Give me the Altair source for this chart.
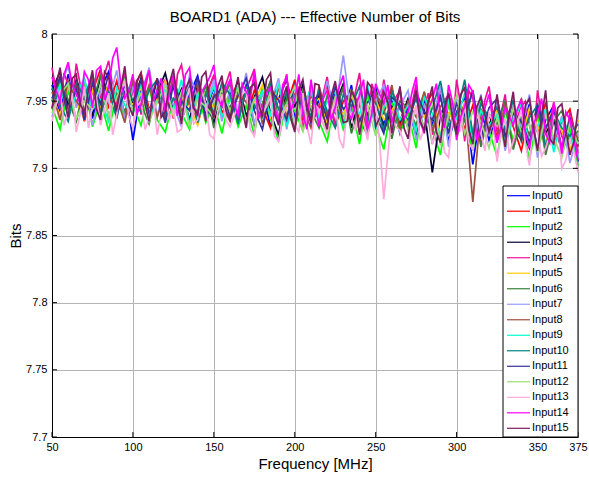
import altair as alt
import pandas as pd

# ---------------- data ----------------
freq = list(range(50, 376, 5))                 # MHz, main sweep
freq_mid = [f + 2.5 for f in freq[:-1]]        # MHz, extra readings between sweep points
names = [f"Input{i}" for i in range(16)]
colors = ["#0000ff", "#ff0000", "#00ff00", "#000033", "#ee1199", "#ffcc00",
          "#3a7f3a", "#9999ff", "#a05040", "#00ffcc", "#008080", "#333399",
          "#99dd77", "#ffaadd", "#ff00ff", "#7a1e5e"]
x_ticks = [50, 100, 150, 200, 250, 300, 350, 375]
y_ticks = [7.7, 7.75, 7.8, 7.85, 7.9, 7.95, 8.0]

input0 = [7.962, 7.941, 7.970, 7.948, 7.966, 7.937, 7.959, 7.972, 7.944, 7.963, 7.921,
          7.958, 7.940, 7.967, 7.946, 7.961, 7.935, 7.955, 7.969, 7.942, 7.960, 7.938,
          7.957, 7.936, 7.962, 7.944, 7.958, 7.931, 7.952, 7.966, 7.939, 7.955, 7.934,
          7.951, 7.930, 7.957, 7.938, 7.962, 7.927, 7.949, 7.960, 7.933, 7.950, 7.926,
          7.946, 7.924, 7.951, 7.933, 7.955, 7.920, 7.942, 7.953, 7.903, 7.944, 7.921,
          7.939, 7.918, 7.945, 7.926, 7.948, 7.914, 7.936, 7.947, 7.912, 7.938, 7.905]
input1 = [7.950, 7.968, 7.943, 7.961, 7.935, 7.957, 7.974, 7.946, 7.965, 7.940, 7.958,
          7.971, 7.944, 7.953, 7.937, 7.966, 7.949, 7.960, 7.933, 7.955, 7.969, 7.941,
          7.952, 7.964, 7.938, 7.958, 7.945, 7.930, 7.961, 7.947, 7.966, 7.936, 7.954,
          7.944, 7.962, 7.931, 7.950, 7.957, 7.936, 7.925, 7.953, 7.941, 7.960, 7.932,
          7.949, 7.927, 7.945, 7.956, 7.922, 7.938, 7.951, 7.929, 7.947, 7.918, 7.940,
          7.924, 7.946, 7.931, 7.913, 7.942, 7.927, 7.949, 7.919, 7.935, 7.944, 7.916]
input2 = [7.946, 7.929, 7.958, 7.935, 7.963, 7.931, 7.950, 7.928, 7.955, 7.938, 7.947,
          7.932, 7.960, 7.936, 7.927, 7.952, 7.941, 7.929, 7.957, 7.934, 7.948, 7.926,
          7.954, 7.931, 7.947, 7.925, 7.962, 7.937, 7.921, 7.950, 7.943, 7.928, 7.958,
          7.935, 7.920, 7.951, 7.929, 7.946, 7.918, 7.955, 7.932, 7.914, 7.949, 7.927,
          7.941, 7.915, 7.957, 7.930, 7.910, 7.948, 7.924, 7.937, 7.913, 7.952, 7.928,
          7.909, 7.943, 7.921, 7.936, 7.906, 7.939, 7.917, 7.947, 7.911, 7.929, 7.902]
input3 = [7.958, 7.972, 7.947, 7.966, 7.951, 7.940, 7.969, 7.955, 7.943, 7.964, 7.949,
          7.967, 7.938, 7.956, 7.971, 7.945, 7.959, 7.936, 7.962, 7.950, 7.934, 7.958,
          7.944, 7.964, 7.939, 7.953, 7.968, 7.941, 7.925, 7.957, 7.946, 7.962, 7.936,
          7.955, 7.933, 7.948, 7.963, 7.930, 7.951, 7.940, 7.958, 7.927, 7.946, 7.935,
          7.952, 7.926, 7.944, 7.897, 7.939, 7.955, 7.929, 7.947, 7.921, 7.943, 7.932,
          7.948, 7.923, 7.940, 7.929, 7.915, 7.944, 7.926, 7.937, 7.912, 7.934, 7.920]
input4 = [7.975, 7.944, 7.962, 7.978, 7.939, 7.968, 7.952, 7.980, 7.946, 7.971, 7.957,
          7.940, 7.973, 7.951, 7.966, 7.937, 7.977, 7.948, 7.960, 7.935, 7.969, 7.954,
          7.972, 7.938, 7.959, 7.974, 7.943, 7.965, 7.934, 7.970, 7.951, 7.928, 7.963,
          7.947, 7.968, 7.931, 7.960, 7.944, 7.971, 7.929, 7.955, 7.966, 7.937, 7.958,
          7.930, 7.963, 7.945, 7.925, 7.959, 7.938, 7.966, 7.920, 7.952, 7.934, 7.961,
          7.927, 7.955, 7.917, 7.946, 7.932, 7.958, 7.914, 7.949, 7.924, 7.942, 7.911]
input5 = [7.953, 7.940, 7.961, 7.949, 7.937, 7.958, 7.945, 7.963, 7.942, 7.955, 7.947,
          7.960, 7.943, 7.951, 7.965, 7.939, 7.954, 7.946, 7.932, 7.957, 7.944, 7.962,
          7.941, 7.955, 7.936, 7.950, 7.962, 7.938, 7.952, 7.944, 7.930, 7.957, 7.946,
          7.952, 7.934, 7.947, 7.940, 7.956, 7.928, 7.945, 7.951, 7.936, 7.943, 7.955,
          7.931, 7.946, 7.938, 7.952, 7.925, 7.941, 7.933, 7.949, 7.927, 7.944, 7.930,
          7.943, 7.926, 7.939, 7.921, 7.945, 7.932, 7.918, 7.940, 7.928, 7.913, 7.936]
input6 = [7.944, 7.966, 7.951, 7.935, 7.960, 7.947, 7.970, 7.938, 7.956, 7.942, 7.964,
          7.948, 7.933, 7.959, 7.945, 7.968, 7.936, 7.953, 7.941, 7.962, 7.930, 7.950,
          7.963, 7.940, 7.956, 7.932, 7.948, 7.965, 7.937, 7.952, 7.929, 7.958, 7.943,
          7.930, 7.954, 7.941, 7.961, 7.926, 7.948, 7.937, 7.957, 7.944, 7.922, 7.950,
          7.945, 7.932, 7.956, 7.918, 7.943, 7.927, 7.951, 7.935, 7.958, 7.916, 7.940,
          7.933, 7.950, 7.914, 7.938, 7.925, 7.947, 7.910, 7.935, 7.943, 7.919, 7.928]
input7 = [7.938, 7.961, 7.976, 7.945, 7.967, 7.932, 7.958, 7.949, 7.973, 7.936, 7.960,
          7.954, 7.975, 7.939, 7.963, 7.947, 7.931, 7.970, 7.952, 7.943, 7.966, 7.935,
          7.959, 7.944, 7.971, 7.933, 7.955, 7.948, 7.967, 7.929, 7.961, 7.940, 7.957,
          7.936, 7.965, 7.942, 7.984, 7.938, 7.956, 7.925, 7.950, 7.962, 7.931, 7.946,
          7.958, 7.921, 7.947, 7.936, 7.961, 7.916, 7.953, 7.940, 7.928, 7.955, 7.924,
          7.950, 7.913, 7.942, 7.931, 7.955, 7.908, 7.944, 7.920, 7.939, 7.904, 7.926]
input8 = [7.957, 7.936, 7.965, 7.950, 7.942, 7.969, 7.940, 7.961, 7.953, 7.934, 7.967,
          7.945, 7.962, 7.938, 7.957, 7.969, 7.943, 7.949, 7.964, 7.937, 7.955, 7.947,
          7.935, 7.958, 7.949, 7.966, 7.933, 7.952, 7.960, 7.939, 7.955, 7.945, 7.930,
          7.961, 7.940, 7.953, 7.934, 7.958, 7.947, 7.929, 7.955, 7.943, 7.962, 7.928,
          7.950, 7.938, 7.957, 7.927, 7.946, 7.955, 7.933, 7.948, 7.875, 7.944, 7.931,
          7.923, 7.947, 7.934, 7.952, 7.918, 7.940, 7.929, 7.945, 7.915, 7.933, 7.922]
input9 = [7.949, 7.962, 7.938, 7.955, 7.967, 7.944, 7.951, 7.935, 7.960, 7.947, 7.941,
          7.963, 7.937, 7.950, 7.958, 7.942, 7.966, 7.933, 7.955, 7.945, 7.961, 7.939,
          7.950, 7.962, 7.934, 7.946, 7.957, 7.940, 7.963, 7.931, 7.953, 7.944, 7.960,
          7.938, 7.949, 7.957, 7.932, 7.951, 7.940, 7.962, 7.929, 7.945, 7.954, 7.936,
          7.947, 7.928, 7.953, 7.941, 7.924, 7.950, 7.936, 7.956, 7.919, 7.943, 7.932,
          7.940, 7.921, 7.936, 7.948, 7.917, 7.931, 7.944, 7.912, 7.937, 7.925, 7.909]
input10 = [7.960, 7.947, 7.935, 7.964, 7.952, 7.971, 7.941, 7.958, 7.937, 7.966, 7.950,
           7.942, 7.958, 7.966, 7.939, 7.952, 7.947, 7.961, 7.934, 7.956, 7.941, 7.964,
           7.955, 7.933, 7.960, 7.947, 7.938, 7.962, 7.944, 7.956, 7.935, 7.951, 7.939,
           7.958, 7.943, 7.930, 7.955, 7.946, 7.961, 7.935, 7.949, 7.928, 7.957, 7.944,
           7.936, 7.952, 7.929, 7.945, 7.965, 7.932, 7.940, 7.966, 7.925, 7.948, 7.938,
           7.945, 7.929, 7.951, 7.920, 7.938, 7.947, 7.916, 7.941, 7.930, 7.924, 7.933]
input11 = [7.952, 7.968, 7.943, 7.959, 7.936, 7.963, 7.948, 7.970, 7.940, 7.957, 7.945,
           7.966, 7.941, 7.955, 7.934, 7.962, 7.950, 7.943, 7.968, 7.937, 7.953, 7.960,
           7.938, 7.954, 7.967, 7.943, 7.929, 7.958, 7.951, 7.936, 7.963, 7.940, 7.949,
           7.955, 7.937, 7.961, 7.944, 7.951, 7.933, 7.958, 7.940, 7.926, 7.953, 7.947,
           7.930, 7.957, 7.942, 7.936, 7.953, 7.926, 7.948, 7.939, 7.958, 7.922, 7.945,
           7.952, 7.924, 7.941, 7.935, 7.919, 7.947, 7.930, 7.943, 7.914, 7.936, 7.917]
input12 = [7.941, 7.955, 7.963, 7.937, 7.950, 7.944, 7.962, 7.939, 7.953, 7.966, 7.943,
           7.956, 7.935, 7.949, 7.962, 7.940, 7.957, 7.931, 7.951, 7.946, 7.938, 7.959,
           7.943, 7.960, 7.931, 7.952, 7.939, 7.957, 7.936, 7.948, 7.961, 7.927, 7.950,
           7.941, 7.927, 7.953, 7.936, 7.959, 7.931, 7.947, 7.924, 7.950, 7.938, 7.956,
           7.928, 7.944, 7.931, 7.950, 7.917, 7.939, 7.954, 7.926, 7.942, 7.935, 7.915,
           7.938, 7.916, 7.945, 7.927, 7.933, 7.912, 7.940, 7.923, 7.908, 7.934, 7.918]
input13 = [7.935, 7.958, 7.943, 7.927, 7.961, 7.947, 7.932, 7.956, 7.940, 7.964, 7.930,
           7.950, 7.938, 7.925, 7.957, 7.944, 7.929, 7.960, 7.936, 7.948, 7.922, 7.955,
           7.931, 7.947, 7.958, 7.924, 7.941, 7.953, 7.920, 7.945, 7.933, 7.956, 7.918,
           7.944, 7.926, 7.950, 7.915, 7.938, 7.955, 7.921, 7.946, 7.877, 7.940, 7.928,
           7.912, 7.947, 7.930, 7.918, 7.943, 7.908, 7.935, 7.949, 7.914, 7.926, 7.941,
           7.905, 7.937, 7.920, 7.944, 7.902, 7.928, 7.915, 7.939, 7.900, 7.922, 7.897]
input14 = [7.968, 7.950, 7.979, 7.955, 7.972, 7.945, 7.976, 7.960, 7.990, 7.952, 7.970,
           7.947, 7.973, 7.958, 7.942, 7.969, 7.953, 7.975, 7.940, 7.962, 7.977, 7.946,
           7.966, 7.939, 7.957, 7.972, 7.944, 7.960, 7.935, 7.968, 7.951, 7.941, 7.966,
           7.931, 7.958, 7.945, 7.969, 7.937, 7.954, 7.929, 7.963, 7.948, 7.934, 7.960,
           7.942, 7.968, 7.926, 7.951, 7.939, 7.962, 7.921, 7.946, 7.957, 7.930, 7.955,
           7.919, 7.945, 7.932, 7.951, 7.915, 7.940, 7.926, 7.949, 7.911, 7.936, 7.906]
input15 = [7.945, 7.975, 7.938, 7.970, 7.941, 7.973, 7.936, 7.968, 7.944, 7.976, 7.939,
           7.971, 7.935, 7.967, 7.942, 7.974, 7.933, 7.966, 7.940, 7.972, 7.937, 7.969,
           7.936, 7.968, 7.930, 7.963, 7.938, 7.971, 7.932, 7.961, 7.927, 7.966, 7.934,
           7.962, 7.929, 7.965, 7.934, 7.958, 7.925, 7.964, 7.931, 7.957, 7.926, 7.961,
           7.922, 7.958, 7.928, 7.961, 7.919, 7.956, 7.925, 7.960, 7.918, 7.953, 7.927,
           7.955, 7.916, 7.957, 7.921, 7.952, 7.913, 7.958, 7.918, 7.948, 7.910, 7.944]

# extra in-between readings (at freq_mid) of the top-drawn inputs
input4_mid = [7.958, 7.971, 7.950, 7.962, 7.955, 7.943, 7.970, 7.961, 7.957, 7.948, 7.966,
              7.959, 7.944, 7.962, 7.949, 7.970, 7.958, 7.940, 7.953, 7.961, 7.945, 7.963,
              7.950, 7.948, 7.966, 7.951, 7.957, 7.946, 7.958, 7.940, 7.961, 7.947, 7.938,
              7.955, 7.949, 7.952, 7.936, 7.957, 7.946, 7.963, 7.941, 7.950, 7.953, 7.944,
              7.948, 7.938, 7.956, 7.942, 7.950, 7.930, 7.947, 7.958, 7.939, 7.951, 7.940,
              7.941, 7.929, 7.938, 7.950, 7.921, 7.939, 7.931, 7.936, 7.918, 7.929]
input13_mid = [7.947, 7.932, 7.956, 7.941, 7.930, 7.952, 7.944, 7.925, 7.958, 7.939, 7.946,
               7.929, 7.953, 7.941, 7.936, 7.927, 7.950, 7.933, 7.958, 7.925, 7.943, 7.936,
               7.939, 7.955, 7.929, 7.950, 7.946, 7.924, 7.940, 7.951, 7.927, 7.932, 7.947,
               7.933, 7.941, 7.922, 7.947, 7.928, 7.934, 7.950, 7.919, 7.910, 7.931, 7.918,
               7.936, 7.921, 7.944, 7.927, 7.912, 7.938, 7.929, 7.919, 7.945, 7.913, 7.935,
               7.926, 7.911, 7.933, 7.918, 7.940, 7.909, 7.925, 7.934, 7.906, 7.912]
input14_mid = [7.958, 7.970, 7.962, 7.948, 7.966, 7.973, 7.951, 7.982, 7.963, 7.958, 7.941,
               7.964, 7.950, 7.967, 7.955, 7.939, 7.970, 7.946, 7.957, 7.968, 7.952, 7.959,
               7.948, 7.963, 7.952, 7.937, 7.956, 7.946, 7.962, 7.943, 7.970, 7.929, 7.948,
               7.952, 7.936, 7.961, 7.942, 7.947, 7.966, 7.940, 7.955, 7.962, 7.945, 7.937,
               7.957, 7.935, 7.944, 7.963, 7.930, 7.949, 7.938, 7.962, 7.921, 7.945, 7.935,
               7.931, 7.939, 7.944, 7.926, 7.933, 7.952, 7.919, 7.931, 7.942, 7.921]
input15_mid = [7.962, 7.951, 7.967, 7.948, 7.958, 7.944, 7.972, 7.953, 7.960, 7.947, 7.965,
               7.948, 7.957, 7.938, 7.963, 7.950, 7.959, 7.945, 7.968, 7.949, 7.961, 7.943,
               7.955, 7.944, 7.960, 7.949, 7.966, 7.941, 7.952, 7.937, 7.958, 7.946, 7.963,
               7.940, 7.954, 7.947, 7.935, 7.951, 7.942, 7.960, 7.938, 7.949, 7.945, 7.930,
               7.945, 7.935, 7.950, 7.927, 7.944, 7.938, 7.955, 7.929, 7.946, 7.940, 7.936,
               7.933, 7.941, 7.926, 7.947, 7.930, 7.938, 7.922, 7.945, 7.929, 7.920]

series = [input0, input1, input2, input3, input4, input5, input6, input7,
          input8, input9, input10, input11, input12, input13, input14, input15]
series_mid = {4: input4_mid, 13: input13_mid, 14: input14_mid, 15: input15_mid}

rows = []
for k, (name, vals) in enumerate(zip(names, series)):
    for f, v in zip(freq, vals):
        rows.append({"freq": f, "bits": v, "series": name, "k": k})
    if k in series_mid:
        for f, v in zip(freq_mid, series_mid[k]):
            rows.append({"freq": f, "bits": v, "series": name, "k": k})
df = pd.DataFrame(rows)
legend_df = pd.DataFrame({"series": names, "idx": list(range(len(names)))})

# ---------------- chart ----------------
W, H = 526, 403
FONT = "Liberation Sans"
color_scale = alt.Scale(domain=names, range=colors)
y_scale = alt.Scale(domain=[7.7, 8.0], nice=False, zero=False)
x_scale = alt.Scale(domain=[50, 375], nice=False, zero=False)

lines = alt.Chart(df).mark_line(strokeWidth=1.7).encode(
    x=alt.X("freq:Q", scale=x_scale,
            axis=alt.Axis(values=x_ticks, format="d", title="Frequency [MHz]",
                          grid=True, gridColor="#b4b4b4", gridOpacity=1,
                          domainColor="black", tickSize=0, labelPadding=4,
                          labelFontSize=11, labelColor="black", labelFont=FONT,
                          titleFont=FONT, titleFontSize=15, titleFontWeight="normal",
                          titleColor="black", titlePadding=4, labelFlush=False)),
    y=alt.Y("bits:Q", scale=y_scale,
            axis=alt.Axis(values=y_ticks, format="~g", title="Bits",
                          grid=True, gridColor="#b4b4b4", gridOpacity=1,
                          domainColor="black", tickSize=0, labelPadding=5,
                          labelFontSize=11, labelColor="black", labelFont=FONT,
                          titleFont=FONT, titleFontSize=15, titleFontWeight="normal",
                          titleColor="black", titlePadding=2)),
    color=alt.Color("series:N", scale=color_scale, legend=None),
    detail="k:O",
)

tick_x_df = pd.DataFrame({"freq": x_ticks})
tick_y_df = pd.DataFrame({"bits": y_ticks})
ticks_top = alt.Chart(tick_x_df).mark_rule(color="black", strokeWidth=1).encode(
    x=alt.X("freq:Q", scale=x_scale), y=alt.value(0), y2=alt.value(5))
ticks_bot = alt.Chart(tick_x_df).mark_rule(color="black", strokeWidth=1).encode(
    x=alt.X("freq:Q", scale=x_scale), y=alt.value(H - 5), y2=alt.value(H))
ticks_left = alt.Chart(tick_y_df).mark_rule(color="black", strokeWidth=1).encode(
    y=alt.Y("bits:Q", scale=y_scale, axis=None), x=alt.value(0), x2=alt.value(5))
ticks_right = alt.Chart(tick_y_df).mark_rule(color="black", strokeWidth=1).encode(
    y=alt.Y("bits:Q", scale=y_scale, axis=None), x=alt.value(W - 5), x2=alt.value(W))

box = alt.Chart(pd.DataFrame({"b": [0]})).mark_rect(
    fill="white", stroke="black", strokeWidth=1).encode(
    x=alt.value(451), x2=alt.value(W), y=alt.value(152), y2=alt.value(H))

leg_y = alt.Y("idx:Q", scale=alt.Scale(domain=[0, 15], range=[161.7, 394.3]), axis=None)
leg_lines = alt.Chart(legend_df).mark_rule(strokeWidth=1.2).encode(
    y=leg_y, x=alt.value(455), x2=alt.value(478),
    color=alt.Color("series:N", scale=color_scale, legend=None))
leg_text = alt.Chart(legend_df).mark_text(
    align="left", baseline="middle", fontSize=11, font=FONT, color="black").encode(
    y=leg_y, x=alt.value(480), text="series:N")

chart = alt.layer(
    lines, ticks_top, ticks_bot, ticks_left, ticks_right, box, leg_lines, leg_text
).resolve_scale(y="independent").properties(
    width=W, height=H,
    title=alt.TitleParams("BOARD1 (ADA) --- Effective Number of Bits",
                          font=FONT, fontSize=15, fontWeight="normal",
                          color="black", offset=3, anchor="middle"),
    autosize=alt.AutoSizeParams(type="none"),
    padding={"left": 52, "top": 34, "right": 11, "bottom": 41},
).configure_view(stroke="black", strokeWidth=1).configure(background="white")

chart.save("out.html", embed_options={"renderer": "svg", "actions": False})
